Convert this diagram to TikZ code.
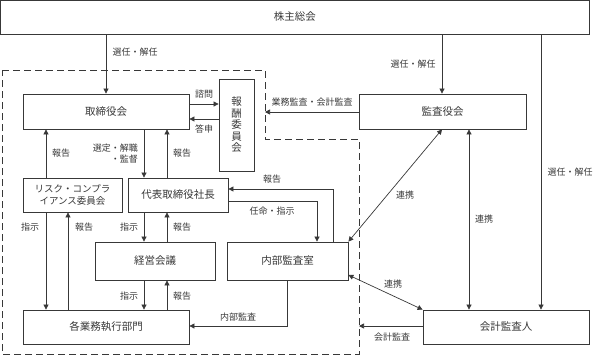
\documentclass[tikz,border=0pt]{standalone}
\usepackage{fontspec}
\setmainfont{Noto Sans CJK JP}
\usetikzlibrary{arrows.meta}
\definecolor{lc}{HTML}{383838}
\tikzset{
  box/.style={draw=lc, line width=0.8pt, fill=white, inner sep=0pt, text=lc, font=\fontsize{10.5}{12.5}\selectfont},
  lab/.style={inner sep=0pt, text=lc, font=\fontsize{9}{10.5}\selectfont},
  arr/.style={draw=lc, line width=0.7pt, -{Triangle[length=5pt,width=5pt]}},
  darr/.style={draw=lc, line width=0.7pt, {Triangle[length=5pt,width=5pt]}-{Triangle[length=5pt,width=5pt]}},
  plain/.style={draw=lc, line width=0.7pt},
  dashbd/.style={draw=lc, line width=0.8pt, dash pattern=on 7pt off 4pt}
}
\begin{document}
\begin{tikzpicture}[x=1pt,y=-1pt]
\useasboundingbox (0,0) rectangle (593,356);
% dashed boundary
\draw[dashbd] (2,70) -- (265,70) -- (265,139) -- (359,139) -- (359,354) -- (2,354) -- cycle;
\coordinate (db1) at (265,112);
\coordinate (db2) at (359,326);
% boxes
\node[box, minimum width=588.5pt, minimum height=34pt] (kabu) at (294.75,17) {株主総会};
\node[box, minimum width=166pt, minimum height=35pt] (tori) at (106,111.5) {取締役会};
\node[box, minimum width=35pt, minimum height=92pt, align=center, font=\fontsize{10.5}{11.5}\selectfont] (hoshu) at (236.5,125) {報\\酬\\委\\員\\会};
\node[box, minimum width=167pt, minimum height=35pt] (kansa) at (442.5,111.5) {監査役会};
\node[box, minimum width=99pt, minimum height=34pt, align=center, font=\fontsize{9.5}{12}\selectfont] (risk) at (72.5,195) {リスク・コンプラ\\イアンス委員会};
\node[box, minimum width=100pt, minimum height=34pt] (daihyo) at (178,195) {代表取締役社長};
\node[box, minimum width=120pt, minimum height=38pt] (keiei) at (155,261) {経営会議};
\node[box, minimum width=121pt, minimum height=38pt] (naibu) at (287.5,261) {内部監査室};
\node[box, minimum width=166pt, minimum height=34pt] (kakugyo) at (106,327) {各業務執行部門};
\node[box, minimum width=166pt, minimum height=34pt] (kaikei) at (506,327) {会計監査人};
% column / row helpers
\coordinate (xa) at (46,0);
\coordinate (xb) at (68,0);
\coordinate (xc) at (144,0);
\coordinate (xd) at (167,0);
\coordinate (xe) at (317,0);
\coordinate (xf) at (333,0);
\coordinate (xg) at (287,0);
\coordinate (xh) at (442,0);
\coordinate (xi) at (469,0);
\coordinate (xj) at (541,0);
\coordinate (xk) at (106,0);
\coordinate (ya) at (0,104);
\coordinate (yb) at (0,119);
\coordinate (yc) at (0,112);
\coordinate (yd) at (0,189);
\coordinate (ye) at (0,201);
\coordinate (yf) at (0,326);
\coordinate (yg) at (0,275);
% connectors
\draw[arr] (kabu.south -| xk) -- (tori.north -| xk);
\draw[arr] (kabu.south -| xh) -- (kansa.north -| xh);
\draw[arr] (kabu.south -| xj) -- (kaikei.north -| xj);
\draw[arr] (tori.east |- ya) -- (hoshu.west |- ya);
\draw[arr] (hoshu.west |- yb) -- (tori.east |- yb);
\draw[arr] (kansa.west |- yc) -- (db1);
\draw[arr] (tori.south -| xc) -- (daihyo.north -| xc);
\draw[arr] (daihyo.north -| xd) -- (tori.south -| xd);
\draw[arr] (risk.north -| xa) -- (tori.south -| xa);
\draw[arr] (daihyo.south -| xc) -- (keiei.north -| xc);
\draw[arr] (keiei.north -| xd) -- (daihyo.south -| xd);
\draw[arr] (keiei.south -| xc) -- (kakugyo.north -| xc);
\draw[arr] (kakugyo.north -| xd) -- (keiei.south -| xd);
\draw[arr] (risk.south -| xa) -- (kakugyo.north -| xa);
\draw[arr] (kakugyo.north -| xb) -- (risk.south -| xb);
\draw[arr] (daihyo.east |- ye) -| (naibu.north -| xe);
\draw[arr] (naibu.north -| xf) |- (daihyo.east |- yd);
\draw[arr] (naibu.south -| xg) |- (kakugyo.east |- yf);
\draw[darr] (kansa.south -| xh) -- (naibu.north east);
\draw[darr] (kansa.south -| xi) -- (kaikei.north -| xi);
\draw[darr] (naibu.east |- yg) -- (kaikei.north west);
\draw[arr] (kaikei.west |- yf) -- (db2);
% labels
\node[lab] (l1) at (135,52) {選任・解任};
\node[lab] (l2) at (413,64) {選任・解任};
\node[lab] (l3) at (570,172) {選任・解任};
\node[lab] (l4) at (312,102) {業務監査・会計監査};
\node[lab] (l5) at (204,94) {諮問};
\node[lab] (l6) at (204,129) {答申};
\node[lab, align=right, anchor=east] (l7) at (138,153.5) {選定・解職\\・監督};
\node[lab] (l8) at (61,153) {報告};
\node[lab] (l9) at (182,153) {報告};
\node[lab] (l10) at (272,179) {報告};
\node[lab] (l11) at (272,211) {任命・指示};
\node[lab] (l12) at (30,227) {指示};
\node[lab] (l13) at (84,227) {報告};
\node[lab] (l14) at (129,227) {指示};
\node[lab] (l15) at (182,227) {報告};
\node[lab] (l16) at (129,296) {指示};
\node[lab] (l17) at (182,296) {報告};
\node[lab] (l18) at (238,317) {内部監査};
\node[lab] (l19) at (405,195) {連携};
\node[lab] (l20) at (484,219) {連携};
\node[lab] (l21) at (393,284) {連携};
\node[lab] (l22) at (392,337) {会計監査};
\end{tikzpicture}
\end{document}
